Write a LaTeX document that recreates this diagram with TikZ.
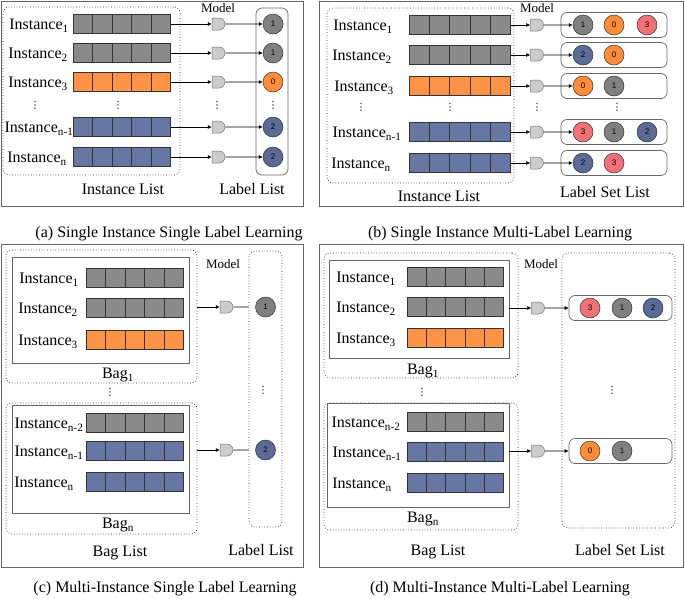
\documentclass[tikz,border=0pt]{standalone}
\usepackage{fontspec}
\setmainfont{Liberation Serif}
\newfontfamily\numfont{Liberation Sans}
\newfontfamily\dotfont{DejaVu Sans}
\usepackage{xcolor}
\usetikzlibrary{positioning,calc,fit,shapes.misc,arrows.meta}

\definecolor{bargray}{RGB}{138,138,138}
\definecolor{barorange}{RGB}{255,148,72}
\definecolor{barblue}{RGB}{103,119,163}
\definecolor{cgray}{RGB}{128,128,128}
\definecolor{corange}{RGB}{255,140,56}
\definecolor{cblue}{RGB}{91,107,152}
\definecolor{cpink}{RGB}{242,112,118}

% a row of five cells: [width]{name}{x left}{y}{colour}
\newcommand{\cellrow}[5][97]{%
  \node[cellbar, minimum width=#1pt, fill=#5] (#2) at (#3,#4) {};
  \foreach \k in {1,2,3,4}
    \draw[black!80, line width=0.5pt] ($(#2.north west)!\k/5!(#2.north east)$) -- ($(#2.south west)!\k/5!(#2.south east)$);
}

\tikzset{
  frame/.style={draw=black!60, line width=0.8pt},
  listbox/.style={draw=black!85, dotted, line width=0.7pt, rounded corners=6pt, inner sep=0pt},
  labbox/.style={draw=black!60, line width=0.7pt, rounded corners=6pt, inner sep=0pt},
  bagbox/.style={draw=black!60, line width=0.7pt, inner sep=0pt},
  setbox/.style={labbox, minimum height=25pt},
  cellbar/.style={draw=black!80, line width=0.5pt, anchor=west, minimum height=19pt, inner sep=0pt},
  gate/.style={rounded rectangle, rounded rectangle left arc=none, draw=black!55, fill=black!20,
    line width=0.5pt, minimum width=13pt, minimum height=12pt, inner sep=0pt},
  lab/.style={circle, draw=black!80, line width=0.5pt, minimum size=20pt, inner sep=0pt,
    font=\numfont\fontsize{8}{8}\selectfont},
  conn/.style={-{Latex[length=4pt,width=4pt]}, draw=black, line width=0.6pt},
  link/.style={draw=black, line width=0.6pt},
  txt/.style={font=\fontsize{16}{19}\selectfont, anchor=base, yshift=-5.5pt, inner sep=0pt},
  modeltxt/.style={font=\fontsize{13}{15}\selectfont, anchor=base, inner sep=0pt},
  capt/.style={font=\fontsize{16}{19}\selectfont, anchor=base, inner sep=0pt},
  vdot/.style={font=\dotfont\fontsize{10}{10}\selectfont, inner sep=0pt},
}

\begin{document}
\begin{tikzpicture}[x=1pt,y=-1pt]
  \useasboundingbox (0,0) rectangle (685,598);

  % (a) single instance single label
  \draw[frame] (1,1) rectangle (303,206);
  \node[listbox, fit={(3,7) (180,175)}] (ila) {};
  \node[labbox, fit={(256,8) (288,175)}] (lla) {};
  \node[modeltxt] (ma) at (218,12) {Model};
  \node[txt] (ia1) at (39,24) {Instance\textsubscript{1}};
  \node[txt] (ia2) at (38,53) {Instance\textsubscript{2}};
  \node[txt] (ia3) at (38,82) {Instance\textsubscript{3}};
  \node[txt] (ia4) at (39,127) {Instance\textsubscript{n-1}};
  \node[txt] (ia5) at (37,157) {Instance\textsubscript{n}};
  \cellrow{a1}{73}{24}{bargray}
  \cellrow{a2}{73}{53}{bargray}
  \cellrow{a3}{73}{82}{barorange}
  \cellrow{a4}{73}{127}{barblue}
  \cellrow{a5}{73}{157}{barblue}
  \node[gate] (ga1) at (218.5,24) {};
  \node[gate] (ga2) at (218.5,53) {};
  \node[gate] (ga3) at (218.5,82) {};
  \node[gate] (ga4) at (218.5,127) {};
  \node[gate] (ga5) at (218.5,157) {};
  \node[lab, fill=cgray] (la1) at (273,24) {1};
  \node[lab, fill=cgray] (la2) at (273,53) {1};
  \node[lab, fill=corange] (la3) at (273,82) {0};
  \node[lab, fill=cblue] (la4) at (273,127) {2};
  \node[lab, fill=cblue] (la5) at (273,157) {2};
  \foreach \i in {1,...,5} {
    \draw[conn] (a\i) -- (ga\i);
    \draw[conn] (ga\i) -- (la\i);
  }
  \node[vdot] (da1) at (35,105) {⋮};
  \node[vdot] (da2) at (118,105) {⋮};
  \node[vdot] (da3) at (217,105) {⋮};
  \node[vdot] (da4) at (273,105) {⋮};
  \node[txt] (ta1) at (123,189) {Instance List};
  \node[txt] (ta2) at (252,189) {Label List};
  \node[capt] (capa) at (169,237) {(a) Single Instance Single Label Learning};

  % (b) single instance multi-label
  \draw[frame] (319,1) rectangle (683,206);
  \node[listbox, fit={(327,8) (514,183)}] (ilb) {};
  \node[modeltxt] (mb) at (537,12) {Model};
  \node[txt] (ib1) at (363,25) {Instance\textsubscript{1}};
  \node[txt] (ib2) at (362,55) {Instance\textsubscript{2}};
  \node[txt] (ib3) at (364,86) {Instance\textsubscript{3}};
  \node[txt] (ib4) at (367,132) {Instance\textsubscript{n-1}};
  \node[txt] (ib5) at (361,163) {Instance\textsubscript{n}};
  \cellrow[101]{b1}{409}{25}{bargray}
  \cellrow[101]{b2}{409}{55}{bargray}
  \cellrow[101]{b3}{409}{86}{barorange}
  \cellrow[101]{b4}{409}{132}{barblue}
  \cellrow[101]{b5}{409}{163}{barblue}
  \node[gate] (gb1) at (537,25) {};
  \node[gate] (gb2) at (537,55) {};
  \node[gate] (gb3) at (537,86) {};
  \node[gate] (gb4) at (537,132) {};
  \node[gate] (gb5) at (537,163) {};
  \node[setbox, minimum width=106pt] (sb1) at (614,25) {};
  \node[setbox, minimum width=106pt] (sb2) at (614,55) {};
  \node[setbox, minimum width=106pt] (sb3) at (614,86) {};
  \node[setbox, minimum width=106pt] (sb4) at (614,132) {};
  \node[setbox, minimum width=106pt] (sb5) at (614,163) {};
  \node[lab, fill=cgray] (lb1) at (583,25) {1};
  \node[lab, fill=corange] (lb1b) at (614,25) {0};
  \node[lab, fill=cpink] (lb1c) at (647,25) {3};
  \node[lab, fill=cblue] (lb2) at (583,55) {2};
  \node[lab, fill=corange] (lb2b) at (614,55) {0};
  \node[lab, fill=corange] (lb3) at (583,86) {0};
  \node[lab, fill=cgray] (lb3b) at (614,86) {1};
  \node[lab, fill=cpink] (lb4) at (583,132) {3};
  \node[lab, fill=cgray] (lb4b) at (614,132) {1};
  \node[lab, fill=cblue] (lb4c) at (647,132) {2};
  \node[lab, fill=cblue] (lb5) at (583,163) {2};
  \node[lab, fill=cpink] (lb5b) at (614,163) {3};
  \foreach \i in {1,...,5} {
    \draw[conn] (b\i) -- (gb\i);
    \draw[conn] (gb\i) -- (lb\i);
  }
  \node[vdot] (db1) at (361,107) {⋮};
  \node[vdot] (db2) at (450,107) {⋮};
  \node[vdot] (db3) at (537,107) {⋮};
  \node[vdot] (db4) at (617,107) {⋮};
  \node[txt] (tb1) at (439,196) {Instance List};
  \node[txt] (tb2) at (605,192) {Label Set List};
  \node[capt] (capb) at (500,237) {(b) Single Instance Multi-Label Learning};

  % (c) multi-instance single label
  \draw[frame] (1,244) rectangle (303,567);
  \node[listbox, fit={(6,250) (197,383)}] (bagc1) {};
  \node[bagbox, fit={(12,257) (189,363)}] (bagc1in) {};
  \node[listbox, fit={(6,403) (197,534)}] (bagc2) {};
  \node[bagbox, fit={(12,405) (189,513)}] (bagc2in) {};
  \node[listbox, fit={(249,251) (282,527)}] (llc) {};
  \node[modeltxt] (mc) at (223,268) {Model};
  \node[txt] (ic1) at (49,278) {Instance\textsubscript{1}};
  \node[txt] (ic2) at (48,308) {Instance\textsubscript{2}};
  \node[txt] (ic3) at (48,340) {Instance\textsubscript{3}};
  \node[txt] (ic4) at (49,423) {Instance\textsubscript{n-2}};
  \node[txt] (ic5) at (49,451) {Instance\textsubscript{n-1}};
  \node[txt] (ic6) at (44,482) {Instance\textsubscript{n}};
  \cellrow{c1}{86}{278}{bargray}
  \cellrow{c2}{86}{308}{bargray}
  \cellrow{c3}{86}{340}{barorange}
  \cellrow{c4}{86}{423}{bargray}
  \cellrow{c5}{86}{451}{barblue}
  \cellrow{c6}{86}{482}{barblue}
  \node[txt] (bc1) at (118,373) {Bag\textsubscript{1}};
  \node[txt] (bc2) at (118,523) {Bag\textsubscript{n}};
  \node[gate] (gc1) at (226.5,307) {};
  \node[gate] (gc2) at (226.5,450) {};
  \node[lab, fill=cgray] (lc1) at (265.5,307) {1};
  \node[lab, fill=cblue] (lc2) at (265.5,450) {2};
  \draw[conn] (gc1 -| bagc1.east) -- (gc1);
  \draw[link] (gc1) -- (gc1 -| llc.west);
  \draw[conn] (gc2 -| bagc2.east) -- (gc2);
  \draw[link] (gc2) -- (gc2 -| llc.west);
  \node[vdot] (dc1) at (110,392) {⋮};
  \node[vdot] (dc2) at (263,390) {⋮};
  \node[txt] (tc1) at (120,551) {Bag List};
  \node[txt] (tc2) at (261,550) {Label List};
  \node[capt] (capc) at (165,592) {(c) Multi-Instance Single Label Learning};

  % (d) multi-instance multi-label
  \draw[frame] (319,244) rectangle (683,567);
  \node[listbox, fit={(324,253) (518,378)}] (bagd1) {};
  \node[bagbox, fit={(329,260) (509,358)}] (bagd1in) {};
  \node[listbox, fit={(324,403) (518,530)}] (bagd2) {};
  \node[bagbox, fit={(327,403) (509,507)}] (bagd2in) {};
  \node[listbox, fit={(562,253) (675,528)}] (lld) {};
  \node[modeltxt] (md) at (541,268) {Model};
  \node[txt] (id1) at (366,277) {Instance\textsubscript{1}};
  \node[txt] (id2) at (366,307) {Instance\textsubscript{2}};
  \node[txt] (id3) at (366,338) {Instance\textsubscript{3}};
  \node[txt] (id4) at (366,422) {Instance\textsubscript{n-2}};
  \node[txt] (id5) at (367,452) {Instance\textsubscript{n-1}};
  \node[txt] (id6) at (362,483) {Instance\textsubscript{n}};
  \cellrow[96]{d1}{407}{277}{bargray}
  \cellrow[96]{d2}{407}{307}{bargray}
  \cellrow[96]{d3}{407}{338}{barorange}
  \cellrow[96]{d4}{407}{422}{bargray}
  \cellrow[96]{d5}{407}{452}{barblue}
  \cellrow[96]{d6}{407}{483}{barblue}
  \node[txt] (bd1) at (423,369) {Bag\textsubscript{1}};
  \node[txt] (bd2) at (423,517) {Bag\textsubscript{n}};
  \node[gate] (gd1) at (538,308) {};
  \node[gate] (gd2) at (538,451) {};
  \node[setbox, minimum width=103pt] (sd1) at (620.5,308) {};
  \node[setbox, minimum width=103pt] (sd2) at (620.5,451) {};
  \node[lab, fill=cpink] (ld1) at (590,308) {3};
  \node[lab, fill=cgray] (ld1b) at (622,308) {1};
  \node[lab, fill=cblue] (ld1c) at (653,308) {2};
  \node[lab, fill=corange] (ld2) at (590,451) {0};
  \node[lab, fill=cgray] (ld2b) at (622,451) {1};
  \draw[conn] (gd1 -| bagd1in.east) -- (gd1);
  \draw[conn] (gd1) -- (sd1);
  \draw[conn] (gd2 -| bagd2in.east) -- (gd2);
  \draw[conn] (gd2) -- (sd2);
  \node[vdot] (dd1) at (422,392) {⋮};
  \node[vdot] (dd2) at (612,390) {⋮};
  \node[txt] (td1) at (438,550) {Bag List};
  \node[txt] (td2) at (620,550) {Label Set List};
  \node[capt] (capd) at (500,592) {(d) Multi-Instance Multi-Label Learning};
\end{tikzpicture}
\end{document}
